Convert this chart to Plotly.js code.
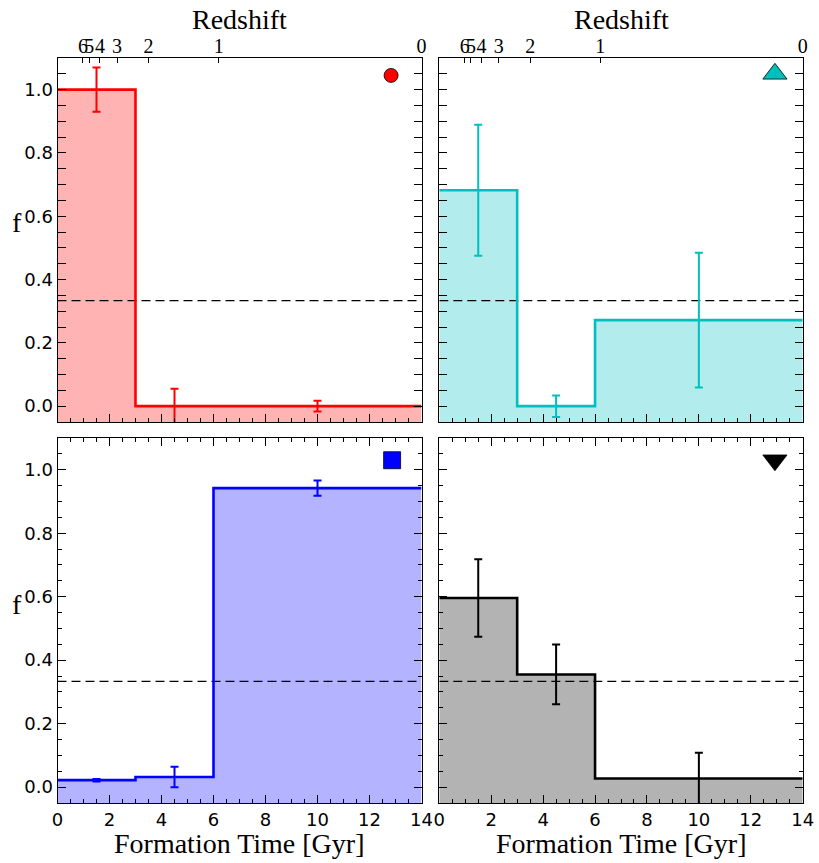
<!DOCTYPE html>
<html>
<head>
<meta charset="utf-8">
<script src="https://cdn.plot.ly/plotly-3.0.1.min.js"></script>
<style>html,body{margin:0;padding:0;background:#fff;}#chart{width:819px;height:863px;}</style>
</head>
<body>
<div id="chart"></div>
<script>
// ---- data ----
const binEdges = [0, 3, 6, 14];
const binCenters = [1.5, 4.5, 10];
const redF = [1.0, 0.0, 0.0];
const redErr = [0.07, 0.055, 0.017];
const cyanF = [0.682, 0.0, 0.272];
const cyanErr = [0.207, 0.034, 0.213];
const blueF = [0.022, 0.032, 0.942];
const blueErr = [0.004, 0.032, 0.024];
const blackF = [0.596, 0.355, 0.027];
const blackErr = [0.122, 0.094, 0.081];
const equalFraction = 1 / 3;
const redshiftLabels = ['6', '5', '4', '3', '2', '1', '0'];
const redshiftTimes = [0.98, 1.22, 1.63, 2.29, 3.5, 6.2, 14];
const symbolX = [12.83, 12.93, 12.87, 12.93];
const symbolY = [1.045, 1.05, 1.03, 1.03];

// ---- styling ----
const xRange = [0, 14];
const yRange = [-0.05, 1.1];
const panels = [
  {f: redF, err: redErr, line: '#ff0000', fill: '#ffb3b3', sym: 'circle', symColor: '#ff0000', symSize: 14, xa: 'x', ya: 'y'},
  {f: cyanF, err: cyanErr, line: '#00bfbf', fill: '#b2ecec', sym: 'triangle-up', symColor: '#00bfbf', symSize: 21, xa: 'x2', ya: 'y2'},
  {f: blueF, err: blueErr, line: '#0000ff', fill: '#b3b3ff', sym: 'square', symColor: '#0000ff', symSize: 17, xa: 'x3', ya: 'y3'},
  {f: blackF, err: blackErr, line: '#000000', fill: '#b3b3b3', sym: 'triangle-down', symColor: '#000000', symSize: 21, xa: 'x4', ya: 'y4'}
];

const traces = [];
panels.forEach((p, i) => {
  const fx = [binEdges[0]], fy = [yRange[0] - 1];
  for (let k = 0; k < p.f.length; k++) {
    fx.push(binEdges[k], binEdges[k + 1]);
    fy.push(p.f[k], p.f[k]);
  }
  fx.push(binEdges[binEdges.length - 1]);
  fy.push(yRange[0] - 1);
  traces.push({x: fx, y: fy, xaxis: p.xa, yaxis: p.ya, mode: 'lines', fill: 'toself',
    fillcolor: p.fill, line: {width: 0, color: p.fill}, hoverinfo: 'skip', showlegend: false});
  traces.push({x: xRange, y: [equalFraction, equalFraction], xaxis: p.xa, yaxis: p.ya, mode: 'lines',
    line: {color: '#000', width: 1.2, dash: '9px,5px'}, showlegend: false, hoverinfo: 'skip'});
  traces.push({x: binEdges, y: p.f.concat([p.f[p.f.length - 1]]), xaxis: p.xa, yaxis: p.ya, mode: 'lines',
    line: {shape: 'hv', color: p.line, width: 2.6}, showlegend: false});
  traces.push({x: binCenters, y: p.f, xaxis: p.xa, yaxis: p.ya, mode: 'markers',
    marker: {size: 1, color: 'rgba(0,0,0,0)'},
    error_y: {type: 'data', array: p.err, visible: true, color: p.line, thickness: 2, width: 4},
    showlegend: false});
  traces.push({x: [symbolX[i]], y: [symbolY[i]], xaxis: p.xa, yaxis: p.ya, mode: 'markers',
    marker: {symbol: p.sym, size: p.symSize, color: p.symColor, line: {color: '#000', width: 0.8}},
    showlegend: false});
});
traces.push({x: xRange, y: [0, 0], xaxis: 'x5', yaxis: 'y', mode: 'lines', line: {width: 0}, showlegend: false, hoverinfo: 'skip'});
traces.push({x: xRange, y: [0, 0], xaxis: 'x6', yaxis: 'y2', mode: 'lines', line: {width: 0}, showlegend: false, hoverinfo: 'skip'});

const tickFont = {family: 'DejaVu Sans', size: 18, color: '#000'};
const serif = 'Liberation Serif';
const dLeft = [57.5 / 819, 421.5 / 819];
const dRight = [439.3 / 819, 802.7 / 819];
const dTop = [1 - 422 / 863, 1 - 58 / 863];
const dBot = [1 - 803 / 863, 1 - 438 / 863];

function xax(domain, anchor, showLabels, mirror) {
  return {domain: domain, anchor: anchor, range: xRange, tickmode: 'linear', tick0: 0, dtick: 2, tickangle: 0,
    ticks: 'inside', ticklen: 8, tickwidth: 1, tickcolor: '#000', showline: true, linecolor: '#000', linewidth: 1,
    mirror: mirror, showgrid: false, zeroline: false, showticklabels: showLabels, tickfont: tickFont,
    minor: {dtick: 0.5, ticks: 'inside', ticklen: 4, tickcolor: '#000', showgrid: false}};
}
function yax(domain, anchor, showLabels) {
  return {domain: domain, anchor: anchor, range: yRange, tickmode: 'linear', tick0: 0, dtick: 0.2,
    tickformat: '.1f', ticks: 'inside', ticklen: 8, tickwidth: 1, tickcolor: '#000', showline: true,
    linecolor: '#000', linewidth: 1, mirror: 'allticks', showgrid: false, zeroline: false,
    showticklabels: showLabels, tickfont: tickFont,
    minor: {dtick: 0.05, ticks: 'inside', ticklen: 4, tickcolor: '#000', showgrid: false}};
}
function zax(overlay, anchor) {
  return {overlaying: overlay, anchor: anchor, side: 'top', range: xRange, tickmode: 'array',
    tickvals: redshiftTimes, ticktext: redshiftLabels, tickangle: 0, ticks: 'inside', ticklen: 5, tickcolor: '#000',
    showline: false, showgrid: false, zeroline: false, tickfont: {family: serif, size: 20, color: '#000'}};
}

const layout = {
  width: 819, height: 863, margin: {l: 0, r: 0, t: 0, b: 0},
  paper_bgcolor: '#fff', plot_bgcolor: '#fff', showlegend: false,
  xaxis: xax(dLeft, 'y', false, true),
  yaxis: yax(dTop, 'x', true),
  xaxis2: xax(dRight, 'y2', false, true),
  yaxis2: yax(dTop, 'x2', false),
  xaxis3: xax(dLeft, 'y3', true, 'allticks'),
  yaxis3: yax(dBot, 'x3', true),
  xaxis4: xax(dRight, 'y4', true, 'allticks'),
  yaxis4: yax(dBot, 'x4', false),
  xaxis5: zax('x', 'y'),
  xaxis6: zax('x2', 'y2'),
  annotations: [
    {text: 'Redshift', xref: 'paper', yref: 'paper', x: (dLeft[0] + dLeft[1]) / 2, y: 1 - 19 / 863, showarrow: false, font: {family: serif, size: 28, color: '#000'}, xanchor: 'center', yanchor: 'middle'},
    {text: 'Redshift', xref: 'paper', yref: 'paper', x: (dRight[0] + dRight[1]) / 2, y: 1 - 19 / 863, showarrow: false, font: {family: serif, size: 28, color: '#000'}, xanchor: 'center', yanchor: 'middle'},
    {text: 'Formation Time [Gyr]', xref: 'paper', yref: 'paper', x: (dLeft[0] + dLeft[1]) / 2, y: 1 - 843 / 863, showarrow: false, font: {family: serif, size: 28, color: '#000'}, xanchor: 'center', yanchor: 'middle'},
    {text: 'Formation Time [Gyr]', xref: 'paper', yref: 'paper', x: (dRight[0] + dRight[1]) / 2, y: 1 - 843 / 863, showarrow: false, font: {family: serif, size: 28, color: '#000'}, xanchor: 'center', yanchor: 'middle'},
    {text: 'f', xref: 'paper', yref: 'paper', x: 17 / 819, y: 1 - 222 / 863, showarrow: false, font: {family: serif, size: 28, color: '#000'}, xanchor: 'center', yanchor: 'middle'},
    {text: 'f', xref: 'paper', yref: 'paper', x: 17 / 819, y: 1 - 604 / 863, showarrow: false, font: {family: serif, size: 28, color: '#000'}, xanchor: 'center', yanchor: 'middle'}
  ]
};

Plotly.newPlot('chart', traces, layout, {staticPlot: true, displayModeBar: false});
</script>
</body>
</html>
